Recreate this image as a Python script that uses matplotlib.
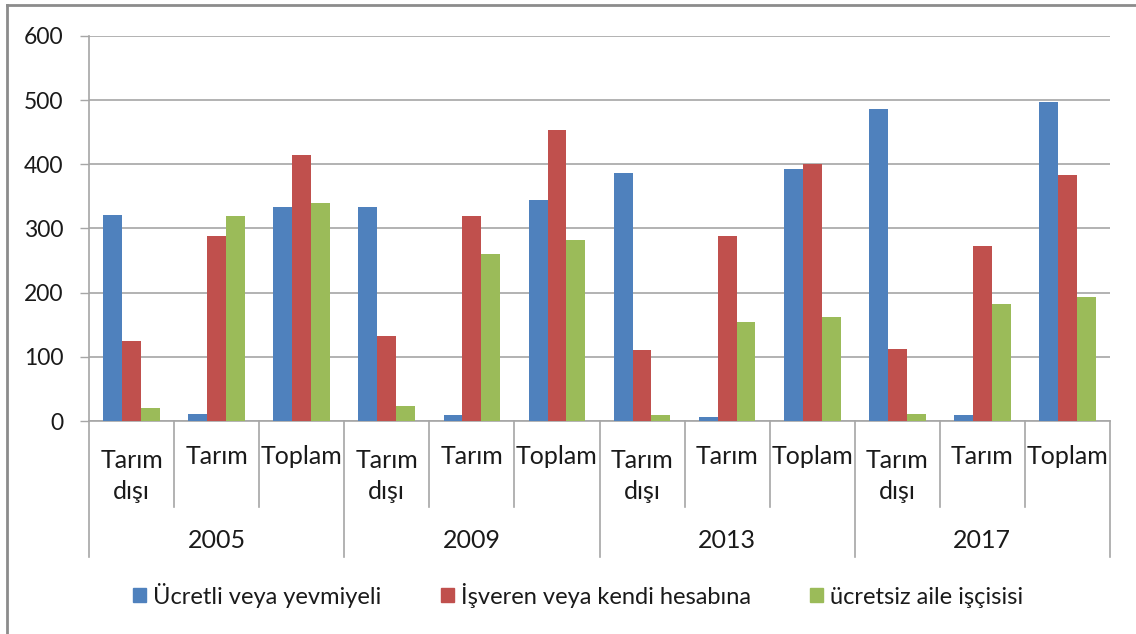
import numpy as np
import matplotlib.pyplot as plt
from matplotlib.lines import Line2D
from matplotlib.patches import Patch

plt.rcParams['font.family'] = ['Lato', 'DejaVu Sans']

# data
years = ['2005', '2009', '2013', '2017']
sectors = ['Tarım\ndışı', 'Tarım', 'Toplam']
series_names = ['Ücretli veya yevmiyeli', 'İşveren veya kendi hesabına', 'ücretsiz aile işçisisi']
ucretli = [321, 11, 333, 333, 9, 344, 387, 7, 393, 487, 9, 497]
isveren = [125, 289, 415, 132, 319, 453, 110, 289, 401, 112, 272, 383]
ucretsiz = [21, 319, 339, 23, 260, 282, 9, 154, 162, 11, 182, 194]
colors = ['#4F81BD', '#C0504D', '#9BBB59']

W, H = 1136, 634
fig = plt.figure(figsize=(W / 100, H / 100), dpi=100)
ax = fig.add_axes([89 / W, 1 - 421 / H, (1110 - 89) / W, (421 - 36) / H])

# chart border (only top and left visible in the original)
fig.add_artist(Line2D([7 / W, 7 / W], [0, 1 - 5 / H], color='#8C8C8C', lw=2))
fig.add_artist(Line2D([7 / W, 1], [1 - 5 / H, 1 - 5 / H], color='#8C8C8C', lw=2))

n = len(ucretli)
x = np.arange(n) + 0.5
w = 1 / 4.5
for k, vals in enumerate([ucretli, isveren, ucretsiz]):
    ax.bar(x + (k - 1) * w, vals, width=w, color=colors[k], zorder=3)

ax.set_xlim(0, n)
ax.set_ylim(0, 600)
ax.set_yticks(range(0, 601, 100))
ax.yaxis.grid(True, color='#A6A6A6', lw=1.2, zorder=0)
ax.tick_params(axis='y', length=6.5, width=1, color='#A6A6A6', pad=12,
               labelsize=16.5, labelcolor='#1a1a1a')
ax.set_xticks([])
for s in ['top', 'right']:
    ax.spines[s].set_visible(False)
for s in ['left', 'bottom']:
    ax.spines[s].set_color('#A6A6A6')
    ax.spines[s].set_linewidth(1.2)

# multi-level category axis
tr = ax.get_xaxis_transform()
for i in range(n + 1):
    ylow = -0.353 if i % 3 == 0 else -0.2234
    ax.add_line(Line2D([i, i], [0, ylow], transform=tr, color='#A6A6A6',
                       lw=1.2, clip_on=False))
for i in range(n):
    lab = sectors[i % 3]
    if '\n' in lab:
        ax.text(x[i], -0.143, lab, transform=tr, ha='center', va='center',
                fontsize=18, color='#1a1a1a', linespacing=1.45)
    else:
        ax.text(x[i], -0.0935, lab, transform=tr, ha='center', va='center',
                fontsize=18, color='#1a1a1a')
for j, yr in enumerate(years):
    ax.text(3 * j + 1.5, -0.31, yr, transform=tr, ha='center', va='center',
            fontsize=18, color='#1a1a1a')

handles = [Patch(color=c) for c in colors]
fig.legend(handles, series_names, loc='center', bbox_to_anchor=(0.509, 1 - 595 / H),
           ncol=3, frameon=False, fontsize=17, handlelength=0.55, handleheight=0.55,
           handletextpad=0.3, columnspacing=2.5, labelcolor='#1a1a1a')

fig.savefig('out.png', dpi=100)
